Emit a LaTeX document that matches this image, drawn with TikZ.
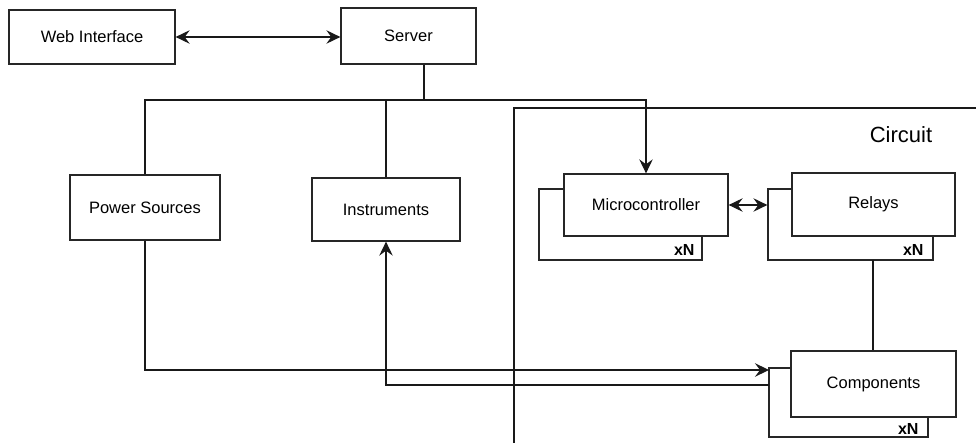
\documentclass[tikz,border=0pt]{standalone}
\usepackage{fontspec}
\setmainfont{Liberation Sans}
\usetikzlibrary{arrows.meta,calc}
\begin{document}
\begin{tikzpicture}[x=1pt,y=-1pt,
  every node/.style={font=\fontsize{16.5}{19}\selectfont},
  box/.style={draw=black!85,line width=1.3pt,fill=white,inner sep=0pt},
  conn/.style={draw=black!90,line width=1.3pt},
  >={Stealth[length=14pt,width=13.5pt,inset=5pt]},
  count/.style={anchor=east,inner sep=0pt,font=\fontsize{16}{19}\selectfont\bfseries}]
\useasboundingbox (0,0) rectangle (976,443);

% circuit container (runs past the lower and right edges)
\draw[conn] (514,450) -- (514,108) -- (985,108);
\node (circuit) at (901,135) {\fontsize{22}{26}\selectfont Circuit};

% top row
\node[box,minimum width=166pt,minimum height=54pt] (web) at (92,37) {Web Interface};
\node[box,minimum width=135pt,minimum height=56pt] (server) at (408.5,36) {Server};

% lab equipment
\node[box,minimum width=150pt,minimum height=65pt] (power) at (145,207.5) {Power Sources};
\node[box,minimum width=148pt,minimum height=63pt] (instr) at (386,209.5) {Instruments};

% stacked blocks inside the circuit
\node[box,minimum width=163pt,minimum height=71pt] (mcuback) at (620.5,224.5) {};
\node[box,minimum width=164pt,minimum height=62pt] (mcu) at (646,205) {Microcontroller};
\node[count] (mcun) at ($(mcuback.south east)+(-8,-11)$) {xN};

\node[box,minimum width=165pt,minimum height=71pt] (relback) at (850.5,224.5) {};
\node[box,minimum width=163pt,minimum height=63pt] (rel) at (873.5,204.5) {Relays};
\node[count] (reln) at ($(relback.south east)+(-10,-11)$) {xN};

\node[box,minimum width=159pt,minimum height=69pt] (compback) at (848.5,402.5) {};
\node[box,minimum width=165pt,minimum height=66pt] (comp) at (873.5,384) {Components};
\node[count] (compn) at ($(compback.south east)+(-10,-9)$) {xN};

% connectors
\coordinate (bus) at (424,100);
\coordinate (pwrin) at (769,370);
\coordinate (measout) at (769,385);
\coordinate (relcomp) at (873,260);

\draw[conn,<->] (web.east) -- (server.west |- web.east);
\draw[conn] (server.south -| bus) -- (bus);
\draw[conn] (power.north) |- (bus);
\draw[conn] (instr.north) -- (instr.north |- bus);
\draw[conn,->] (bus) -| (mcu.north);
\draw[conn,<->] (mcu.east) -- (mcu.east -| relback.west);
\draw[conn] (relcomp) -- (relcomp |- comp.north);
\draw[conn,->] (power.south) |- (pwrin);
\draw[conn,->] (measout) -| (instr.south);
\end{tikzpicture}
\end{document}
